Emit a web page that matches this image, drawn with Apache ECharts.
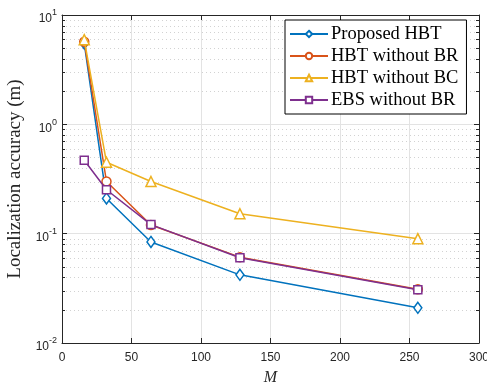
<!DOCTYPE html>
<html>
<head>
<meta charset="utf-8">
<script src="https://cdn.jsdelivr.net/npm/echarts@6/dist/echarts.min.js"></script>
<style>html,body{margin:0;padding:0;background:#fff}#chart{width:487px;height:383px}</style>
</head>
<body>
<div id="chart"></div>
<script>
// Number of elements M
const mValues = [16, 32, 64, 128, 256];

// Localization accuracy (m) per method
const proposedHBT = [5.5, 0.21, 0.084, 0.042, 0.021];
const hbtWithoutBR = [5.7, 0.30, 0.12, 0.061, 0.031];
const hbtWithoutBC = [5.95, 0.45, 0.30, 0.152, 0.090];
const ebsWithoutBR = [0.47, 0.252, 0.121, 0.0603, 0.0307];

const seriesNames = ['Proposed HBT', 'HBT without BR', 'HBT without BC', 'EBS without BR'];
const seriesColors = ['#0072BD', '#D95319', '#EDB120', '#7E2F8E'];
const seriesSymbols = ['diamond', 'circle', 'triangle', 'rect'];
const seriesSizes = [[8, 11], 9, 10, 8];
const seriesValues = [proposedHBT, hbtWithoutBR, hbtWithoutBC, ebsWithoutBR];

// minor log gridlines at 2..9 of each decade
const minorValues = [];
for (let e = -2; e <= 0; e++) {
  for (let k = 2; k <= 9; k++) minorValues.push(+(k * Math.pow(10, e)).toPrecision(3));
}

const axisColor = '#262626';
const serif = 'Liberation Serif, Times New Roman, serif';
const sans = 'Liberation Sans, Arial, sans-serif';

const chart = echarts.init(document.getElementById('chart'));

const lineSeries = seriesNames.map((name, i) => ({
  name: name,
  type: 'line',
  xAxisIndex: 0,
  yAxisIndex: 0,
  data: mValues.map((m, j) => [m, seriesValues[i][j]]),
  symbol: seriesSymbols[i],
  symbolSize: seriesSizes[i],
  showAllSymbol: true,
  lineStyle: { color: seriesColors[i], width: 1.5 },
  itemStyle: { color: '#ffffff', borderColor: seriesColors[i], borderWidth: 1.5 },
  z: 5 + i,
  animation: false
}));

chart.setOption({
  animation: false,
  backgroundColor: '#ffffff',
  grid: { left: 62, right: 8, top: 15, bottom: 40, show: false, outerBoundsMode: 'none', containLabel: false },
  legend: {
    orient: 'vertical',
    left: 285,
    top: 20,
    backgroundColor: '#ffffff',
    borderColor: '#000000',
    borderWidth: 1,
    borderRadius: 0,
    padding: [3, 8, 3, 4],
    itemGap: 0,
    itemWidth: 38,
    itemHeight: 8,
    data: seriesNames,
    textStyle: { fontFamily: serif, fontSize: 18.5, color: '#000', lineHeight: 22, padding: [0, 0, 0, -2] }
  },
  xAxis: [{
    type: 'value',
    min: 0, max: 300, interval: 50,
    name: 'M',
    nameLocation: 'middle',
    nameGap: 27,
    nameTextStyle: { fontFamily: serif, fontStyle: 'italic', fontSize: 16, color: axisColor },
    axisLine: { show: true, onZero: false, lineStyle: { color: axisColor, width: 1 } },
    axisTick: { show: true, inside: true, length: 5, lineStyle: { color: axisColor } },
    axisLabel: { margin: 9, fontFamily: sans, fontSize: 12, color: axisColor },
    splitLine: { show: true, lineStyle: { color: '#e3e3e3', width: 1 } }
  }, {
    type: 'value',
    position: 'top',
    min: 0, max: 300, interval: 50,
    axisLine: { show: true, onZero: false, lineStyle: { color: axisColor, width: 1 } },
    axisTick: { show: true, inside: true, length: 5, lineStyle: { color: axisColor } },
    axisLabel: { show: false },
    splitLine: { show: false }
  }],
  yAxis: [{
    type: 'log',
    logBase: 10,
    min: 0.01, max: 10,
    name: 'Localization accuracy (m)',
    nameLocation: 'middle',
    nameGap: 31,
    nameTextStyle: { fontFamily: serif, fontSize: 19, color: axisColor },
    axisLine: { show: true, onZero: false, lineStyle: { color: axisColor, width: 1 } },
    axisTick: { show: true, inside: true, length: 5, lineStyle: { color: axisColor } },
    axisLabel: {
      margin: 5,
      formatter: v => '{b|10}{e|' + Math.round(Math.log10(v)) + '}',
      rich: {
        b: { fontFamily: sans, fontSize: 12, color: axisColor, padding: [8, 0, 0, 0] },
        e: { fontFamily: sans, fontSize: 9, color: axisColor, padding: [0, 0, 4, 0] }
      }
    },
    splitLine: { show: true, lineStyle: { color: '#e3e3e3', width: 1 } }
  }, {
    type: 'log',
    logBase: 10,
    position: 'right',
    min: 0.01, max: 10,
    axisLine: { show: true, onZero: false, lineStyle: { color: axisColor, width: 1 } },
    axisTick: { show: true, inside: true, length: 5, lineStyle: { color: axisColor } },
    axisLabel: { show: false },
    splitLine: { show: false }
  }],
  series: [{
    // dotted minor gridlines plus inside minor ticks on both vertical axes
    type: 'custom',
    xAxisIndex: 0,
    yAxisIndex: 0,
    silent: true,
    z: 1,
    data: minorValues.map(v => [0, v]),
    renderItem: function (params, api) {
      const cs = params.coordSys;
      const y = Math.round(api.coord([0, api.value(1)])[1]) + 0.5;
      return {
        type: 'group',
        children: [
          { type: 'line', shape: { x1: cs.x, y1: y, x2: cs.x + cs.width, y2: y },
            style: { stroke: '#d2d2d2', lineWidth: 1, lineDash: [1, 3] } },
          { type: 'line', shape: { x1: cs.x, y1: y, x2: cs.x + 3, y2: y },
            style: { stroke: axisColor, lineWidth: 1 } },
          { type: 'line', shape: { x1: cs.x + cs.width - 3, y1: y, x2: cs.x + cs.width, y2: y },
            style: { stroke: axisColor, lineWidth: 1 } }
        ]
      };
    }
  }].concat(lineSeries)
});
</script>
</body>
</html>
